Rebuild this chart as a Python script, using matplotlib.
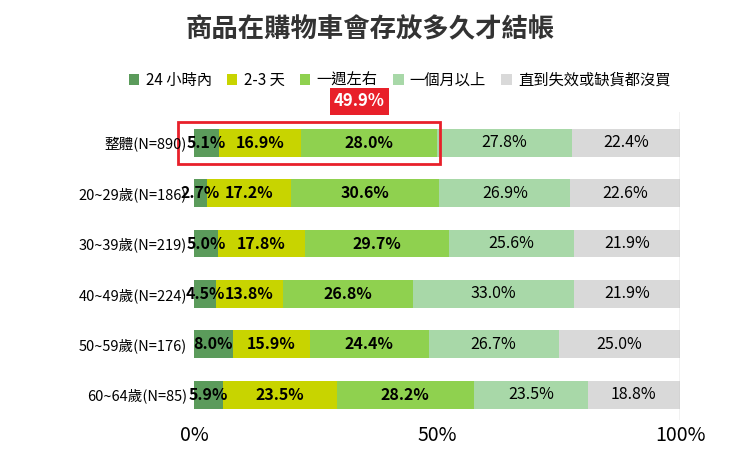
import matplotlib
matplotlib.use("Agg")
import matplotlib.pyplot as plt
from matplotlib.patches import Rectangle

plt.rcParams['font.family'] = ['Noto Sans CJK TC', 'DejaVu Sans']

categories = ["整體(N=890)", "20~29歲(N=186)", "30~39歲(N=219)", "40~49歲(N=224)", "50~59歲(N=176)", "60~64歲(N=85)"]
series = ["24 小時內", "2-3 天", "一週左右", "一個月以上", "直到失效或缺貨都沒買"]
values = [
    [5.1, 2.7, 5.0, 4.5, 8.0, 5.9],
    [16.9, 17.2, 17.8, 13.8, 15.9, 23.5],
    [28.0, 30.6, 29.7, 26.8, 24.4, 28.2],
    [27.8, 26.9, 25.6, 33.0, 26.7, 23.5],
    [22.4, 22.6, 21.9, 21.9, 25.0, 18.8],
]
colors = ["#5b9b5b", "#c8d400", "#8fd14f", "#a8d8a8", "#d9d9d9"]
highlight = "49.9%"

fig = plt.figure(figsize=(7.4, 4.59), dpi=100)
ax = fig.add_axes([0.262, 0.085, 0.657, 0.67])
n = len(categories)
ys = list(range(n))
left = [0.0] * n
for si, s in enumerate(series):
    ax.barh(ys, values[si], left=left, height=0.55, color=colors[si], label=s)
    for i in range(n):
        v = values[si][i]
        ax.text(left[i] + v / 2, ys[i], f"{v:.1f}%", ha='center', va='center',
                fontsize=11.5, fontweight='bold' if si < 3 else 'normal', color='black')
        left[i] += v
ax.set_ylim(n - 0.5, -0.6)
ax.set_xlim(0, 100)
ax.set_yticks(ys)
ax.set_yticklabels(categories, fontsize=10.5)
ax.set_xticks([0, 50, 100])
ax.set_xticklabels(["0%", "50%", "100%"], fontsize=14)
ax.tick_params(length=0)
ax.tick_params(axis='y', pad=5)
ax.axvline(100, color='#bbbbbb', lw=1)
for sp in ax.spines.values():
    sp.set_visible(False)

w = values[0][0] + values[1][0] + values[2][0]
ax.add_patch(Rectangle((-3.3, -0.42), w + 3.3 + 0.6, 0.84, fill=False, ec='#e8202a', lw=2, clip_on=False))
ax.text(w * 0.68, -0.82, highlight, ha='center', va='center', fontsize=12, fontweight='bold',
        color='white', bbox=dict(boxstyle='square,pad=0.25', fc='#e8202a', ec='none'), clip_on=False)

fig.text(0.5, 0.935, "商品在購物車會存放多久才結帳", ha='center', va='center', fontsize=19, fontweight='bold', color='#333333')
fig.legend(loc='center', bbox_to_anchor=(0.54, 0.825), ncol=5, frameon=False, fontsize=11,
           handlelength=0.7, handleheight=0.7, columnspacing=1.0, handletextpad=0.4)
fig.savefig("out.png", dpi=100)
